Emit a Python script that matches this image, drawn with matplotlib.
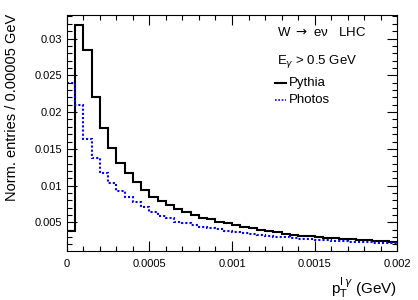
import numpy as np
import matplotlib
matplotlib.use('Agg')
import matplotlib.pyplot as plt
from matplotlib.ticker import MultipleLocator

plt.rcParams['font.family'] = ['Liberation Sans', 'DejaVu Sans']

# 40 bins of 0.00005 GeV from 0 to 0.002
edges = np.linspace(0, 0.002, 41)

pythia = [0.0039, 0.0318, 0.0284, 0.0220, 0.0178, 0.0151, 0.0131, 0.01167,
          0.01045, 0.0094, 0.00849, 0.00794, 0.00731, 0.00677, 0.00636, 0.00595,
          0.00563, 0.0054, 0.00508, 0.00486, 0.00463, 0.00436, 0.00418, 0.00395,
          0.00382, 0.00364, 0.00345, 0.00331, 0.0032, 0.0031, 0.0030, 0.00292,
          0.00284, 0.00276, 0.00269, 0.00262, 0.00256, 0.0025, 0.00245, 0.0024]

photos = [0.0239, 0.0209, 0.0164, 0.0137, 0.01167, 0.01039, 0.0093, 0.00849,
          0.00778, 0.00704, 0.00645, 0.0059, 0.00555, 0.00508, 0.00486, 0.00463,
          0.0044, 0.00425, 0.0041, 0.0039, 0.00375, 0.0036, 0.00345, 0.0033,
          0.00318, 0.00305, 0.00295, 0.00287, 0.0028, 0.00272, 0.00265, 0.00258,
          0.00252, 0.00246, 0.0024, 0.00235, 0.0023, 0.00226, 0.00222, 0.00218]

fig = plt.figure(figsize=(4.18, 3.0), dpi=100)
ax = fig.add_axes([0.160, 0.163, 0.790, 0.787])

ax.stairs(pythia, edges, baseline=None, color='black', lw=1.5)
ax.stairs(photos, edges, baseline=None, color='blue', lw=1.5, linestyle=(0, (1, 1)))

ax.set_xlim(0, 0.002)
ax.set_ylim(0.0011, 0.0332)

ax.xaxis.set_minor_locator(MultipleLocator(0.0001))
ax.yaxis.set_minor_locator(MultipleLocator(0.001))
ax.set_xticks([0, 0.0005, 0.001, 0.0015, 0.002])
ax.set_xticklabels(['0', '0.0005', '0.001', '0.0015', '0.002'])
ax.set_yticks([0.005, 0.01, 0.015, 0.02, 0.025, 0.03])
ax.set_yticklabels(['0.005', '0.01', '0.015', '0.02', '0.025', '0.03'])

ax.tick_params(which='both', direction='in', top=True, right=True, labelsize=8)
ax.tick_params(which='major', length=7, width=0.8)
ax.tick_params(which='minor', length=3.5, width=0.8)
ax.tick_params(axis='x', pad=6)

# ROOT style: axis titles aligned to the end of the axis
ax.set_ylabel('Norm. entries / 0.00005 GeV', fontsize=10.5, loc='top')
ax.yaxis.set_label_coords(-0.145, 1.005)
fig.text(0.950, 0.04, r'p$_{\mathrm{T}}^{\mathrm{l}\,\gamma}$ (GeV)', ha='right', va='center', fontsize=11)

ax.text(0.636, 0.925, 'W $\\rightarrow$ e\u03bd   LHC', transform=ax.transAxes, fontsize=9.5, va='center')
ax.text(0.636, 0.805, r'E$_{\gamma}$ > 0.5 GeV', transform=ax.transAxes, fontsize=9.5, va='center')
ax.plot([0.630, 0.665], [0.710, 0.710], transform=ax.transAxes, color='black', lw=1.5)
ax.plot([0.630, 0.665], [0.638, 0.638], transform=ax.transAxes, color='blue', lw=1.2, linestyle=(0, (1, 1)))
ax.text(0.672, 0.710, 'Pythia', transform=ax.transAxes, fontsize=9.5, va='center')
ax.text(0.672, 0.638, 'Photos', transform=ax.transAxes, fontsize=9.5, va='center')

fig.savefig('out.png', dpi=100)
